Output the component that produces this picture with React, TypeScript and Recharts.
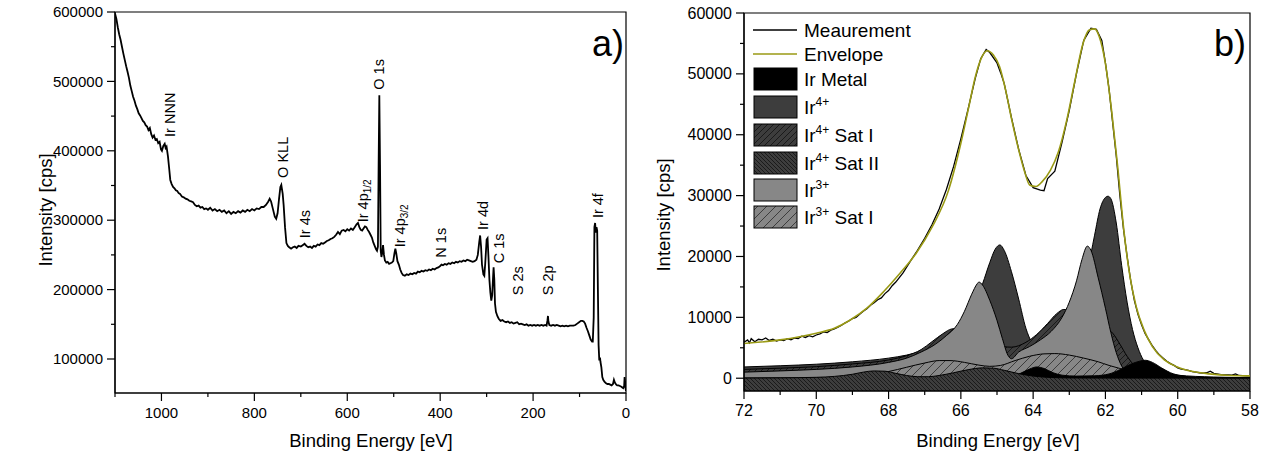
import {
  LineChart, Line, ComposedChart, Area,
  XAxis, YAxis, ReferenceDot, ReferenceArea
} from 'recharts';

const FONT = '"Liberation Sans", Arial, sans-serif';

// a) survey spectrum: [binding energy (eV), intensity (cps)]
const survey: [number, number][] = [
  [1100, 598000], [1097, 590000], [1094, 578000], [1091, 568000], [1088, 560000], [1085, 550000],
  [1082, 540000], [1079, 531000], [1076, 522000], [1073, 514000], [1070, 505000], [1067, 494000],
  [1064, 486000], [1061, 478000], [1058, 472000], [1055, 465000], [1052, 460000], [1049, 454000],
  [1046, 451000], [1043, 447000], [1040, 443000], [1037, 441000], [1034, 437000], [1031, 435000],
  [1028, 430000], [1025, 433000], [1022, 424000], [1019, 419000], [1016, 422000], [1013, 416000],
  [1010, 417000], [1007, 411000], [1004, 413000], [1001, 402000], [999, 400000], [996, 407000],
  [993, 410000], [991, 404000], [989, 406000], [986, 392000], [983, 372000], [981, 358000],
  [978, 352000], [975, 348000], [972, 346000], [969, 343000], [966, 342000], [963, 339000],
  [960, 338000], [956, 334000], [952, 333000], [948, 331000], [944, 330000], [940, 328000],
  [936, 327000], [932, 326000], [928, 322000], [924, 320000], [920, 321000], [916, 318000],
  [912, 319000], [908, 316000], [904, 317000], [900, 315000], [895, 318000], [890, 314000],
  [885, 316000], [880, 313000], [875, 315000], [870, 312000], [865, 314000], [860, 310000],
  [855, 313000], [850, 309000], [845, 312000], [840, 310000], [835, 313000], [830, 311000],
  [825, 314000], [820, 312000], [815, 315000], [810, 313000], [805, 316000], [800, 314000],
  [795, 317000], [790, 316000], [785, 319000], [780, 319000], [775, 322000], [770, 327000],
  [767, 331000], [764, 327000], [760, 316000], [756, 305000], [753, 302000], [750, 310000],
  [747, 330000], [744, 348000], [742, 351000], [739, 338000], [737, 322000], [734, 290000],
  [731, 267000], [728, 263000], [725, 261000], [721, 259000], [717, 261000], [713, 262000],
  [709, 260000], [705, 263000], [700, 262000], [696, 264000], [692, 266000], [688, 263000],
  [684, 261000], [680, 262000], [676, 260000], [672, 263000], [668, 262000], [664, 265000],
  [660, 264000], [656, 267000], [652, 266000], [648, 268000], [644, 270000], [640, 271000],
  [636, 273000], [632, 274000], [628, 276000], [624, 279000], [620, 283000], [616, 280000],
  [612, 285000], [608, 286000], [604, 284000], [600, 287000], [596, 285000], [592, 288000],
  [588, 286000], [584, 290000], [580, 294000], [577, 296000], [574, 290000], [571, 286000],
  [568, 285000], [565, 288000], [562, 291000], [559, 290000], [556, 286000], [553, 283000],
  [550, 279000], [547, 275000], [544, 268000], [541, 263000], [538, 258000], [536, 256000],
  [534, 262000], [532.5, 380000], [531, 480000], [529.5, 380000], [528, 256000], [526.5, 247000],
  [525, 252000], [523, 264000], [521, 250000], [519, 242000], [516, 239000], [513, 240000],
  [510, 237000], [507, 238000], [504, 239000], [501, 241000], [498.5, 252000], [496.5, 259000],
  [494.5, 252000], [492, 241000], [489, 236000], [486, 229000], [483, 224000], [480, 221000],
  [476, 220000], [472, 222000], [468, 221000], [464, 223000], [460, 222000], [456, 224000],
  [452, 223000], [448, 226000], [444, 225000], [440, 227000], [436, 226000], [432, 228000],
  [428, 227000], [424, 229000], [420, 228000], [416, 230000], [412, 229000], [408, 231000],
  [404, 232000], [400, 234000], [397, 236000], [394, 235000], [390, 237000], [386, 236000],
  [382, 238000], [378, 237000], [374, 239000], [370, 238000], [366, 240000], [362, 239000],
  [358, 241000], [354, 240000], [350, 242000], [346, 241000], [342, 243000], [338, 242000],
  [334, 241000], [330, 240000], [326, 241000], [322, 243000], [319, 250000], [316, 268000],
  [314, 278000], [312, 262000], [310, 236000], [307, 222000], [305, 220000], [303, 238000],
  [300, 272000], [298, 274000], [296, 246000], [294, 214000], [292, 196000], [290, 184000],
  [288, 192000], [286, 220000], [285, 232000], [283.5, 215000], [282, 180000], [280, 168000],
  [277, 162000], [274, 158000], [270, 155000], [266, 156000], [262, 154000], [258, 153000],
  [254, 154000], [250, 152000], [246, 153000], [242, 151000], [238, 152000], [234, 153000],
  [230, 150000], [226, 151000], [222, 150000], [218, 149000], [214, 150000], [210, 148000],
  [206, 149000], [202, 148000], [198, 149000], [194, 148000], [190, 149000], [186, 148000],
  [182, 149000], [178, 148000], [174, 149000], [171, 148000], [169, 156000], [168, 162000],
  [167, 154000], [165, 149000], [161, 148000], [157, 149000], [153, 148000], [149, 149000],
  [145, 148000], [141, 147000], [137, 148000], [133, 147000], [129, 148000], [125, 147000],
  [121, 148000], [117, 148000], [113, 148000], [109, 149000], [105, 151000], [101, 153000],
  [97, 155000], [94, 155000], [91, 154000], [88, 151000], [85, 145000], [82, 140000],
  [79, 134000], [76, 128000], [73, 125000], [71.5, 125000], [69.5, 160000], [68, 290000],
  [66.5, 296000], [65, 282000], [63.5, 290000], [62, 285000], [60.5, 200000], [59, 120000],
  [57.5, 98000], [56, 102000], [55, 96000], [53, 88000], [51, 74000], [49, 70000],
  [46, 67000], [43, 65000], [40, 64000], [37, 64000], [34, 63000], [31, 62000],
  [28, 64000], [26, 70000], [24, 66000], [21, 63000], [19, 62000], [16, 62000],
  [13, 61000], [10, 60000], [8, 59000], [6, 58000], [4, 61000], [3, 74000],
  [2, 68000], [1, 58000], [0, 54000],
];

// peak annotations of the survey, anchored at (eV, cps)
const surveyPeaks = [
  { e: 981, i: 420000, text: 'Ir NNN' },
  { e: 739, i: 361000, text: 'O KLL' },
  { e: 692, i: 274000, text: 'Ir 4s' },
  { e: 567, i: 297000, text: 'Ir 4p', sub: '1/2' },
  { e: 532, i: 488000, text: 'O 1s' },
  { e: 487, i: 261000, text: 'Ir 4p', sub: '3/2' },
  { e: 399, i: 246000, text: 'N 1s' },
  { e: 308, i: 286000, text: 'Ir 4d' },
  { e: 274, i: 238000, text: 'C 1s' },
  { e: 233, i: 192000, text: 'S 2s' },
  { e: 168, i: 192000, text: 'S 2p' },
  { e: 60, i: 303000, text: 'Ir 4f' },
];

const surveyXTicks = [1100, 1000, 900, 800, 700, 600, 500, 400, 300, 200, 100, 0];
const surveyYTicks = [100000, 150000, 200000, 250000, 300000, 350000, 400000, 450000, 500000, 550000, 600000];

// b) Ir 4f detail: [binding energy (eV), intensity (cps)]
const measured: [number, number][] = [
  [72, 5900], [71.9, 6300], [71.85, 5800], [71.8, 6500], [71.7, 6000], [71.6, 6400], [71.5, 6300],
  [71.4, 6600], [71.3, 6200], [71.2, 6400], [71.1, 6100], [71, 6300], [70.9, 6200], [70.8, 6500],
  [70.7, 6300], [70.6, 6600], [70.5, 6500], [70.4, 6900], [70.3, 6700], [70.2, 7000], [70.1, 6800],
  [70, 7100], [69.9, 7300], [69.8, 7600], [69.7, 7500], [69.6, 7900], [69.5, 8100], [69.4, 8400],
  [69.3, 8700], [69.2, 9100], [69.1, 9400], [69, 9800], [68.9, 10000], [68.8, 10500], [68.7, 11000],
  [68.6, 11400], [68.5, 12000], [68.4, 12400], [68.3, 12900], [68.2, 13200], [68.1, 13900], [68, 14400],
  [67.9, 15200], [67.8, 15800], [67.6, 17300], [67.4, 19200], [67.2, 21000], [67, 23000], [66.8, 25200],
  [66.6, 27800], [66.4, 31000], [66.2, 34800], [66, 39300], [65.8, 44200], [65.6, 49300], [65.45, 52500],
  [65.3, 54000], [65.2, 53500], [65, 51800], [64.9, 50200], [64.8, 48400], [64.6, 42800], [64.4, 37600],
  [64.2, 33300], [64, 31300], [63.8, 30900], [63.7, 30800], [63.6, 32800], [63.4, 34000], [63.2, 38800],
  [63, 44000], [62.8, 50100], [62.6, 55500], [62.4, 57500], [62.25, 57300], [62.1, 55500], [62, 51800],
  [61.9, 47500], [61.8, 42000], [61.7, 36500], [61.6, 30000], [61.5, 24500], [61.4, 20000], [61.3, 16000],
  [61.2, 12800], [61.1, 10500], [61, 8800], [60.9, 7300], [60.8, 6300], [60.7, 5300], [60.6, 4500],
  [60.5, 3800], [60.4, 3300], [60.3, 2800], [60.2, 2400], [60.1, 2100], [60, 1700], [59.9, 1500],
  [59.8, 1400], [59.7, 1300], [59.6, 1100], [59.5, 1000], [59.4, 900], [59.3, 850], [59.2, 900],
  [59.1, 1150], [59, 800], [58.8, 600], [58.6, 550], [58.5, 500], [58.4, 700], [58.3, 450],
  [58.1, 400], [58, 400],
];

const envelope: [number, number][] = [
  [72, 5700], [71, 6300], [70, 7400], [69.5, 8200], [69.05, 9600], [68.6, 11500], [68.14, 14200],
  [67.69, 17200], [67.24, 20500], [66.79, 24900], [66.34, 30900], [66, 38600], [65.78, 44600],
  [65.6, 49500], [65.44, 52500], [65.27, 53800], [65.1, 53100], [64.93, 51200], [64.76, 47300],
  [64.59, 42400], [64.42, 38000], [64.25, 34200], [64.09, 31700], [63.92, 31500], [63.75, 32300],
  [63.52, 34200], [63.3, 37200], [63.07, 42400], [62.85, 48700], [62.62, 55000], [62.45, 57200],
  [62.3, 57400], [62.17, 56100], [62, 51700], [61.83, 44000], [61.66, 34700], [61.49, 24300],
  [61.32, 16700], [61.15, 11800], [60.93, 7900], [60.7, 5200], [60.37, 3000], [60.03, 1900],
  [59.58, 1100], [59.13, 710], [58.56, 440], [58, 380],
];

const ir4: [number, number][] = [
  [72, 1850], [71, 2050], [70, 2300], [69, 2700], [68, 3300], [67.5, 3800], [67, 4600], [66.6, 5500],
  [66.2, 7000], [65.9, 9000], [65.6, 12500], [65.4, 15500], [65.2, 19000], [65.05, 21200], [64.92, 21900],
  [64.8, 21000], [64.6, 17500], [64.4, 13000], [64.2, 8200], [64.05, 6000], [63.9, 5000], [63.7, 4600],
  [63.5, 4800], [63.3, 5600], [63.1, 7000], [62.9, 9000], [62.7, 12500], [62.5, 17500], [62.3, 23500],
  [62.15, 27800], [62, 29700], [61.93, 29900], [61.85, 29500], [61.7, 25500], [61.55, 18500],
  [61.4, 12500], [61.25, 8000], [61.1, 5000], [60.95, 3000], [60.8, 2000], [60.5, 1100], [60, 500],
  [59, 200], [58, 100],
];

const ir4SatI: [number, number][] = [
  [72, 1450], [71, 1650], [70, 1900], [69, 2350], [68, 3000], [67.5, 3700], [67.1, 4700], [66.8, 6000],
  [66.5, 7300], [66.25, 8100], [66, 8200], [65.7, 7600], [65.4, 6500], [65, 5400], [64.6, 5100],
  [64.2, 5900], [63.9, 7200], [63.6, 9000], [63.35, 10600], [63.15, 11300], [62.9, 10800], [62.6, 9800],
  [62.3, 9000], [62, 8300], [61.8, 7400], [61.6, 5600], [61.4, 3600], [61.2, 2100], [61, 1200],
  [60.7, 600], [60.2, 250], [59, 80], [58, 40],
];

const ir3: [number, number][] = [
  [72, 1000], [71, 1200], [70, 1450], [69, 1850], [68, 2600], [67.5, 3300], [67.1, 4300], [66.7, 5600],
  [66.4, 7000], [66.1, 8800], [65.9, 11000], [65.7, 13800], [65.55, 15500], [65.5, 15800], [65.4, 15300],
  [65.2, 12800], [65, 9500], [64.85, 6500], [64.7, 3800], [64.6, 3200], [64.4, 4300], [64.1, 5200],
  [63.8, 6300], [63.5, 7700], [63.2, 10000], [63, 12500], [62.8, 16000], [62.65, 19500], [62.5, 21700],
  [62.4, 21000], [62.2, 16500], [62, 11500], [61.85, 7500], [61.7, 4200], [61.55, 2000], [61.4, 900],
  [61.1, 400], [60.5, 150], [59, 50], [58, 20],
];

const ir3SatI: [number, number][] = [
  [72, 0], [70, 50], [69, 250], [68.4, 700], [68, 1100], [67.5, 1800], [67, 2500], [66.6, 2900],
  [66.3, 2900], [65.9, 2600], [65.5, 2150], [65.2, 1950], [64.9, 2100], [64.5, 2900], [64.1, 3600],
  [63.7, 4000], [63.4, 4050], [63, 3800], [62.6, 3300], [62.2, 2700], [61.9, 2100], [61.6, 1600],
  [61.3, 1000], [61, 500], [60.5, 150], [59, 20], [58, 0],
];

const irMetal: [number, number][] = [
  [72, 0], [66, 30], [65, 100], [64.6, 300], [64.35, 800], [64.1, 1500], [63.9, 1850], [63.7, 1600],
  [63.45, 900], [63.2, 500], [62.8, 350], [62.3, 400], [61.9, 700], [61.6, 1400], [61.3, 2300],
  [61.05, 2800], [60.9, 2950], [60.7, 2600], [60.45, 1700], [60.2, 900], [59.9, 400], [59.5, 150],
  [59, 50], [58, 0],
];

const ir4SatII: [number, number][] = [
  [72, 30], [71, 60], [70, 150], [69.5, 300], [69, 650], [68.7, 1000], [68.4, 1200], [68.1, 1150],
  [67.8, 800], [67.5, 450], [67.2, 250], [66.9, 250], [66.6, 450], [66.2, 900], [65.8, 1400],
  [65.4, 1700], [65.1, 1650], [64.8, 1300], [64.4, 750], [64, 350], [63.5, 120], [63, 50], [62, 20],
  [58, 0],
];

const fitXTicks = [72, 71, 70, 69, 68, 67, 66, 65, 64, 63, 62, 61, 60, 59, 58];
const fitYTicks = [0, 5000, 10000, 15000, 20000, 25000, 30000, 35000, 40000, 45000, 50000, 55000, 60000];

const toRows = (pts: [number, number][]) => pts.map(([e, i]) => ({ e, i }));

const DARK = '#3d3d3d';
const MID = '#878787';
const OLIVE = '#9a9a14';

function BottomTick(props: any) {
  const { x, y, payload, every, fontSize } = props;
  const v = payload.value;
  const major = v % every === 0;
  return (
    <g>
      <line x1={x} x2={x} y1={y} y2={y + (major ? 8 : 4)} stroke="#000" strokeWidth={1.2} />
      {major && (
        <text x={x} y={y + 25} textAnchor="middle" fontSize={fontSize} fontFamily={FONT} fill="#000">{v}</text>
      )}
    </g>
  );
}

function LeftTick(props: any) {
  const { x, y, payload, every, fontSize } = props;
  const v = payload.value;
  const major = v % every === 0;
  return (
    <g>
      <line x1={x - (major ? 8 : 4)} x2={x} y1={y} y2={y} stroke="#000" strokeWidth={1.2} />
      {major && (
        <text x={x - 12} y={y} dy="0.35em" textAnchor="end" fontSize={fontSize} fontFamily={FONT} fill="#000">{v}</text>
      )}
    </g>
  );
}

function PeakLabel({ cx, cy, text, sub }: any) {
  return (
    <text x={cx} y={cy} transform={`rotate(-90 ${cx} ${cy})`} dominantBaseline="central"
      fontSize={14.5} fontFamily={FONT} fill="#000">
      {text}
      {sub && <tspan fontSize={10} dy={4}>{sub}</tspan>}
    </text>
  );
}

function SurveyPanel() {
  const data = toRows(survey);
  return (
    <LineChart width={640} height={458} data={data} margin={{ top: 12, right: 14, bottom: 25, left: 55 }}>
      <XAxis type="number" dataKey="e" domain={[0, 1100]} reversed allowDataOverflow ticks={surveyXTicks}
        interval={0} height={40} tickLine={false} tickSize={0} tickMargin={0}
        axisLine={{ stroke: '#000', strokeWidth: 1.2 }}
        tick={(p: any) => <BottomTick {...p} every={200} fontSize={15} />} />
      <YAxis type="number" domain={[51000, 600000]} allowDataOverflow ticks={surveyYTicks} interval={0}
        width={60} tickLine={false} tickSize={0} tickMargin={0}
        axisLine={{ stroke: '#000', strokeWidth: 1.2 }}
        tick={(p: any) => <LeftTick {...p} every={100000} fontSize={15} />} />
      <ReferenceArea x1={0} x2={1100} y1={51000} y2={600000} fill="none" stroke="#000" strokeWidth={1.2}
        ifOverflow="visible" />
      <Line dataKey="i" type="linear" stroke="#000" strokeWidth={1.8} dot={false} isAnimationActive={false} />
      {surveyPeaks.map((p) => (
        <ReferenceDot key={p.text + p.e} x={p.e} y={p.i} r={0} ifOverflow="visible"
          shape={(s: any) => <PeakLabel cx={s.cx} cy={s.cy} text={p.text} sub={p.sub} />} />
      ))}
      <text x={624} y={56} textAnchor="end" fontSize={36} fontFamily={FONT}>a)</text>
      <text x={371} y={447} textAnchor="middle" fontSize={18.5} fontFamily={FONT}>Binding Energy [eV]</text>
      <text x={45} y={210} transform="rotate(-90 45 210)" textAnchor="middle" dominantBaseline="central"
        fontSize={18.5} fontFamily={FONT}>Intensity [cps]</text>
    </LineChart>
  );
}

const legendRows = [
  { kind: 'line', color: '#000', label: 'Meaurement', y: 30 },
  { kind: 'line', color: OLIVE, label: 'Envelope', y: 54 },
  { kind: 'box', fill: '#000', label: 'Ir Metal', y: 79 },
  { kind: 'box', fill: DARK, label: 'Ir', sup: '4+', y: 107 },
  { kind: 'box', fill: 'url(#hatchIr4SatI)', label: 'Ir', sup: '4+', tail: ' Sat I', y: 135 },
  { kind: 'box', fill: 'url(#hatchIr4SatII)', label: 'Ir', sup: '4+', tail: ' Sat II', y: 163 },
  { kind: 'box', fill: MID, label: 'Ir', sup: '3+', y: 190 },
  { kind: 'box', fill: 'url(#hatchIr3SatI)', label: 'Ir', sup: '3+', tail: ' Sat I', y: 217 },
];

function FitLegend() {
  return (
    <g fontFamily={FONT}>
      {legendRows.map((r) => (
        <g key={r.label + (r.tail || '') + (r.sup || '')}>
          {r.kind === 'line' ? (
            <line x1={113} x2={157} y1={r.y} y2={r.y} stroke={r.color} strokeWidth={1.6} />
          ) : (
            <rect x={114} y={r.y - 11} width={43} height={22} fill={r.fill} stroke="#000" strokeWidth={1} />
          )}
          <text x={164} y={r.y} dy="0.36em" fontSize={19} fill="#000">
            {r.label}
            {r.sup && <tspan fontSize={12} dy={-8}>{r.sup}</tspan>}
            {r.tail && <tspan dy={8}>{r.tail}</tspan>}
          </text>
        </g>
      ))}
    </g>
  );
}

function FitPanel() {
  const areaProps = { dataKey: 'i', type: 'monotone' as const, stroke: '#000', strokeWidth: 1, isAnimationActive: false };
  return (
    <ComposedChart width={638} height={458} margin={{ top: 13, right: 28, bottom: 27, left: 44 }}>
      <defs>
        <pattern id="hatchIr4SatI" patternUnits="userSpaceOnUse" width={6} height={6}>
          <rect width={6} height={6} fill={DARK} />
          <path d="M0,6 L6,0 M-1,1 L1,-1 M5,7 L7,5" stroke="#111" strokeWidth={0.8} />
        </pattern>
        <pattern id="hatchIr4SatII" patternUnits="userSpaceOnUse" width={4} height={4}>
          <rect width={4} height={4} fill={DARK} />
          <path d="M0,0 L4,4 M-1,3 L1,5 M3,-1 L5,1" stroke="#111" strokeWidth={0.8} />
        </pattern>
        <pattern id="hatchIr3SatI" patternUnits="userSpaceOnUse" width={9} height={9}>
          <rect width={9} height={9} fill={MID} />
          <path d="M0,9 L9,0 M-1,1 L1,-1 M8,10 L10,8" stroke="#2a2a2a" strokeWidth={0.8} />
        </pattern>
      </defs>
      <XAxis type="number" dataKey="e" domain={[58, 72]} reversed allowDataOverflow ticks={fitXTicks}
        interval={0} height={40} tickLine={false} tickSize={0} tickMargin={0}
        axisLine={{ stroke: '#000', strokeWidth: 1.2 }}
        tick={(p: any) => <BottomTick {...p} every={2} fontSize={16} />} />
      <YAxis type="number" domain={[-2100, 60000]} allowDataOverflow ticks={fitYTicks} interval={0}
        width={60} tickLine={false} tickSize={0} tickMargin={0}
        axisLine={{ stroke: '#000', strokeWidth: 1.2 }}
        tick={(p: any) => <LeftTick {...p} every={10000} fontSize={16} />} />
      <Area {...areaProps} data={toRows(ir4)} fill={DARK} fillOpacity={1} baseValue={0} />
      <Area {...areaProps} data={toRows(ir4SatI)} fill="url(#hatchIr4SatI)" fillOpacity={1} baseValue={0} />
      <Area {...areaProps} data={toRows(ir3)} fill={MID} fillOpacity={1} baseValue={0} />
      <Area {...areaProps} data={toRows(ir3SatI)} fill="url(#hatchIr3SatI)" fillOpacity={1} baseValue={0} />
      <Area {...areaProps} data={toRows(irMetal)} fill="#000" fillOpacity={1} baseValue={0} />
      <Area {...areaProps} data={toRows(ir4SatII)} fill="url(#hatchIr4SatII)" fillOpacity={1} baseValue="dataMin" />
      <Line data={toRows(measured)} dataKey="i" type="linear" stroke="#000" strokeWidth={1.3} dot={false}
        isAnimationActive={false} />
      <Line data={toRows(envelope)} dataKey="i" type="monotone" stroke={OLIVE} strokeWidth={1.6} dot={false}
        isAnimationActive={false} />
      <ReferenceArea x1={58} x2={72} y1={-2100} y2={60000} fill="none" stroke="#000" strokeWidth={1.2}
        ifOverflow="visible" />
      <FitLegend />
      <text x={606} y={56} textAnchor="end" fontSize={36} fontFamily={FONT}>b)</text>
      <text x={358} y={447} textAnchor="middle" fontSize={18.5} fontFamily={FONT}>Binding Energy [eV]</text>
      <text x={23} y={215} transform="rotate(-90 23 215)" textAnchor="middle" dominantBaseline="central"
        fontSize={18.5} fontFamily={FONT}>Intensity [cps]</text>
    </ComposedChart>
  );
}

export default function App() {
  return (
    <div style={{ position: 'absolute', left: 0, top: 0, width: 1278, height: 458, background: '#fff' }}>
      <div style={{ position: 'absolute', left: 0, top: 0 }}>
        <SurveyPanel />
      </div>
      <div style={{ position: 'absolute', left: 640, top: 0 }}>
        <FitPanel />
      </div>
    </div>
  );
}
